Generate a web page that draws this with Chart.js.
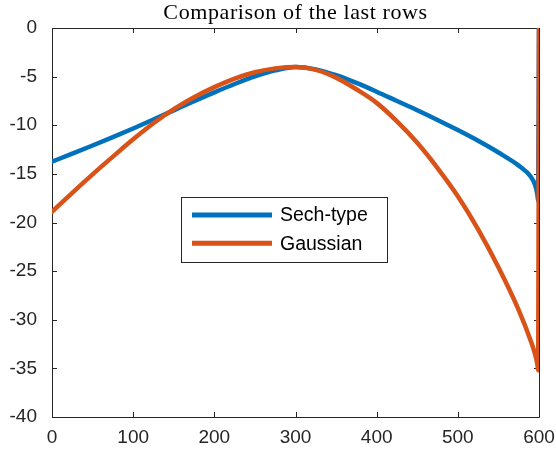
<!DOCTYPE html>
<html>
<head>
<meta charset="utf-8">
<script src="https://cdn.jsdelivr.net/npm/chart.js@4.4.1/dist/chart.umd.min.js"></script>
<style>
  html, body { margin: 0; padding: 0; background: #ffffff; }
  #wrap { width: 556px; height: 458px; }
</style>
</head>
<body>
<div id="wrap"><canvas id="c" width="556" height="458"></canvas></div>
<script>
// ---- data ----
const titleText = "Comparison of the last rows";
const seriesNames = ["Sech-type", "Gaussian"];
const xValues = [0, 25, 50, 75, 100, 125, 150, 175, 200, 225, 250, 275, 300,
                 325, 350, 375, 400, 425, 450, 475, 500, 525, 550, 575, 590, 595, 598, 599, 600];
const sechValues = [-13.74, -12.92, -12.08, -11.22, -10.33, -9.41, -8.47, -7.53, -6.62, -5.76, -4.98, -4.36, -4.0,
                    -4.25, -4.85, -5.65, -6.55, -7.5, -8.45, -9.45, -10.5, -11.6, -12.8, -14.15, -15.3, -16.1, -17.1, -17.8, 0];
const gaussValues = [-18.9, -16.95, -15.05, -13.23, -11.45, -9.8, -8.35, -7.12, -6.08, -5.2, -4.55, -4.15, -4.0,
                     -4.3, -5.1, -6.3, -7.7, -9.6, -11.8, -14.4, -17.3, -20.7, -24.6, -29.0, -32.2, -33.5, -34.6, -35.2, 0];
const xTicks = [0, 100, 200, 300, 400, 500, 600];
const yTicks = [0, -5, -10, -15, -20, -25, -30, -35, -40];

const colors = ["#0072BD", "#D95319"];
const axisColor = "#262626";
const tickFont = { family: "'Liberation Sans', Arial, sans-serif", size: 19 };

const toPoints = (xs, ys) => xs.map((x, i) => ({ x: x, y: ys[i] }));

const framePlugin = {
  id: 'matlabFrame',
  beforeDatasetsDraw(chart) {
    const { ctx, chartArea: a, scales } = chart;
    ctx.save();
    ctx.strokeStyle = axisColor;
    ctx.lineWidth = 1;
    ctx.beginPath();
    ctx.rect(Math.round(a.left) + 0.5, Math.round(a.top) + 0.5,
             Math.round(a.right - a.left), Math.round(a.bottom - a.top));
    ctx.stroke();
    const tl = 5;
    ctx.beginPath();
    xTicks.forEach(v => {
      const px = Math.round(scales.x.getPixelForValue(v)) + 0.5;
      ctx.moveTo(px, a.bottom); ctx.lineTo(px, a.bottom - tl);
      ctx.moveTo(px, a.top); ctx.lineTo(px, a.top + tl);
    });
    yTicks.forEach(v => {
      const py = Math.round(scales.y.getPixelForValue(v)) + 0.5;
      ctx.moveTo(a.left, py); ctx.lineTo(a.left + tl, py);
      ctx.moveTo(a.right, py); ctx.lineTo(a.right - tl, py);
    });
    ctx.stroke();
    ctx.restore();
  },
  afterDraw(chart) {
    const { ctx, chartArea: a } = chart;
    ctx.save();
    // title
    ctx.fillStyle = "#000000";
    ctx.font = "22px 'Liberation Serif', 'Times New Roman', serif";
    try { ctx.letterSpacing = "0.6px"; } catch (e) {}
    ctx.textAlign = "center";
    ctx.textBaseline = "alphabetic";
    ctx.fillText(titleText, (a.left + a.right) / 2, 19);
    try { ctx.letterSpacing = "0px"; } catch (e) {}
    // legend
    const bx = 181.5, by = 197.5, bw = 206, bh = 65;
    ctx.fillStyle = "#ffffff";
    ctx.fillRect(bx, by, bw, bh);
    ctx.strokeStyle = axisColor;
    ctx.lineWidth = 1;
    ctx.strokeRect(bx, by, bw, bh);
    ctx.font = "19.5px 'Liberation Sans', Arial, sans-serif";
    ctx.textAlign = "left";
    ctx.textBaseline = "middle";
    chart.data.datasets.forEach((ds, i) => {
      const y = 215 + i * 28.3;
      ctx.strokeStyle = ds.borderColor;
      ctx.lineWidth = 5;
      ctx.lineCap = "butt";
      ctx.beginPath();
      ctx.moveTo(192, y); ctx.lineTo(272, y);
      ctx.stroke();
      ctx.fillStyle = "#000000";
      ctx.fillText(ds.label, 280, y + 1);
    });
    ctx.restore();
  }
};

new Chart(document.getElementById('c'), {
  type: 'line',
  data: {
    datasets: [
      { label: seriesNames[0], data: toPoints(xValues, sechValues), borderColor: colors[0],
        borderWidth: 4.5, pointRadius: 0, cubicInterpolationMode: 'monotone', fill: false,
        borderJoinStyle: 'round', borderCapStyle: 'round', order: 1 },
      { label: seriesNames[1], data: toPoints(xValues, gaussValues), borderColor: colors[1],
        borderWidth: 4.5, pointRadius: 0, cubicInterpolationMode: 'monotone', fill: false,
        borderJoinStyle: 'round', borderCapStyle: 'round', order: 0 }
    ]
  },
  options: {
    responsive: false,
    animation: false,
    devicePixelRatio: 1,
    layout: { padding: { top: 28, right: 17, left: 0, bottom: 0 } },
    plugins: { legend: { display: false }, title: { display: false }, tooltip: { enabled: false } },
    scales: {
      x: {
        type: 'linear', min: 0, max: 600,
        afterBuildTicks: s => { s.ticks = xTicks.map(v => ({ value: v })); },
        afterFit: s => { s.height = 41; s.paddingLeft = 0; s.paddingRight = 0; },
        grid: { display: false, drawTicks: false },
        border: { display: false },
        ticks: { color: axisColor, font: tickFont, padding: 9, maxRotation: 0, autoSkip: false }
      },
      y: {
        type: 'linear', min: -40, max: 0,
        afterBuildTicks: s => { s.ticks = yTicks.map(v => ({ value: v })); },
        afterFit: s => { s.width = 52; s.paddingTop = 0; s.paddingBottom = 0; },
        grid: { display: false, drawTicks: false },
        border: { display: false },
        ticks: { color: axisColor, font: tickFont, padding: 15, autoSkip: false }
      }
    }
  },
  plugins: [framePlugin]
});
</script>
</body>
</html>
